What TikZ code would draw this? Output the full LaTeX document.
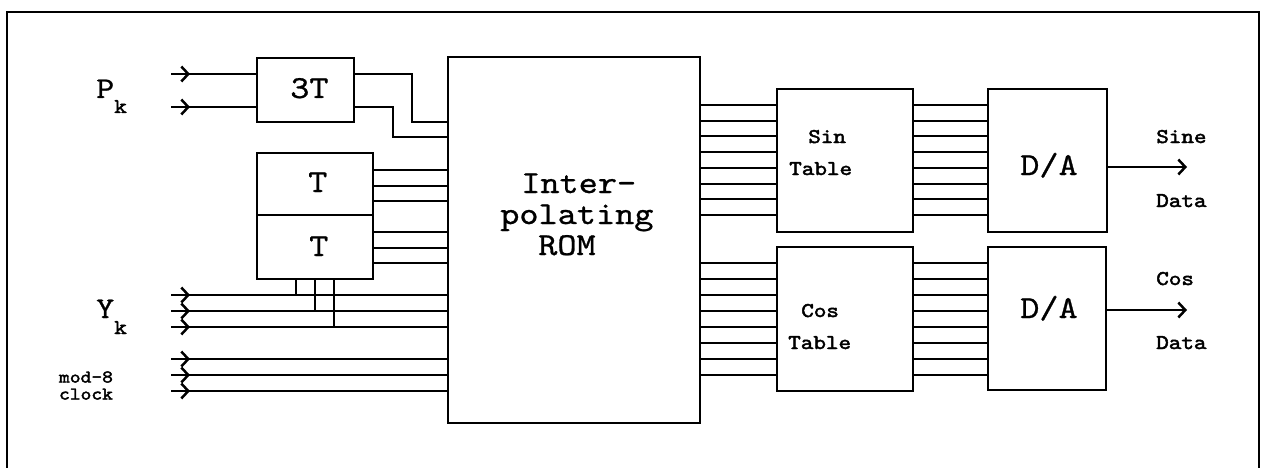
\documentclass[tikz,border=0pt]{standalone}
\usepackage{fontspec}
\newfontfamily\cour{lmmono10-regular.otf}[FakeStretch=1.14,FakeBold=0.8]
\newfontfamily\courb{lmmono10-regular.otf}[FakeStretch=1.14,FakeBold=2.2]
\usetikzlibrary{arrows.meta}
\begin{document}
\begin{tikzpicture}[x=1pt,y=-1pt,line width=2.5pt,
  box/.style={draw,rectangle,inner sep=0pt},
  lbl/.style={anchor=base west,inner sep=0pt},
  big/.style={font=\cour\fontsize{32}{32}\selectfont},
  mid/.style={font=\cour\fontsize{30}{30}\selectfont},
  sml/.style={font=\courb\fontsize{21}{21}\selectfont},
  tiny/.style={font=\courb\fontsize{18}{17}\selectfont},
  barb/.style={-{Straight Barb[length=7pt,width=15pt]}}]
\useasboundingbox (0,0) rectangle (1268,468);
\clip (0,0) rectangle (1268,468);
% frame
\draw (7,480) -- (7,12) -- (1259,12) -- (1259,480);
% boxes
\node[box,minimum width=97pt,minimum height=64pt] (d3) at (305.5,90) {};
\node[box,minimum width=116pt,minimum height=62pt] (tt) at (315,184) {};
\node[box,minimum width=116pt,minimum height=64pt] (tb) at (315,247) {};
\node[box,minimum width=252pt,minimum height=366pt] (rom) at (574,240) {};
\node[box,minimum width=136pt,minimum height=143pt] (sin) at (845,160.5) {};
\node[box,minimum width=136pt,minimum height=144pt] (cos) at (845,319) {};
\node[box,minimum width=119pt,minimum height=143pt] (da1) at (1047.5,160.5) {};
\node[box,minimum width=118pt,minimum height=143pt] (da2) at (1047,318.5) {};
% box texts
\node[lbl,big] (t3T) at (289,98) {3T};
\node[lbl,big] (tT1) at (307,192) {T};
\node[lbl,big] (tT2) at (308,256) {T};
\node[lbl,big] (tI) at (520,193) {Inter-};
\node[lbl,big] (tP) at (499,224) {polating};
\node[lbl,big] (tR) at (537,255) {ROM};
\node[lbl,sml] (tsin) at (807,143) {Sin};
\node[lbl,sml] (tst) at (788,175) {Table};
\node[lbl,sml] (tcos) at (800,317) {Cos};
\node[lbl,sml] (tct) at (787,349) {Table};
\node[lbl,big] (tda1) at (1019,175) {D/A};
\node[lbl,big] (tda2) at (1019,318) {D/A};
% left labels
\node[lbl,mid] (lP) at (95,98) {P};
\node[lbl,sml] (lPk) at (113,113) {k};
\node[lbl,mid] (lY) at (95,318) {Y};
\node[lbl,sml] (lYk) at (113,334) {k};
\node[tiny,inner sep=0pt,align=center] (lmod) at (86,385.5) {mod-8\\clock};
% right labels
\node[lbl,sml] (lsine) at (1155,143) {Sine};
\node[lbl,sml] (ld1) at (1155,207) {Data};
\node[lbl,sml] (lcos) at (1155,285) {Cos};
\node[lbl,sml] (ld2) at (1155,349) {Data};
% P_k inputs
\foreach \y/\n in {74/1,107/2} {
  \coordinate (ps\n) at (171,\y);
  \coordinate (pt\n) at (190,\y);
  \draw[barb] (ps\n) -- (pt\n);
  \draw (ps\n) -- (d3.west |- ps\n);
}
% 3T outputs
\draw (d3.east |- ps1) -- (412,74) -- (412,122) -- (rom.west |- 0,122);
\draw (d3.east |- ps2) -- (393,107) -- (393,137) -- (rom.west |- 0,137);
% T outputs
\foreach \y in {170,186,201} { \draw (tt.east |- 0,\y) -- (rom.west |- 0,\y); }
\foreach \y in {232,248,263} { \draw (tb.east |- 0,\y) -- (rom.west |- 0,\y); }
% Y_k and mod-8 inputs
\foreach \y/\n in {295/1,311/2,327/3,359/4,375/5,391/6} {
  \coordinate (ys\n) at (171,\y);
  \coordinate (yt\n) at (190,\y);
  \draw[barb] (ys\n) -- (yt\n);
  \draw (ys\n) -- (rom.west |- ys\n);
}
% taps into T boxes
\draw (tb.south -| 296,0) -- (ys1 -| 296,0);
\draw (tb.south -| 315,0) -- (ys2 -| 315,0);
\draw (tb.south -| 334,0) -- (ys3 -| 334,0);
% ROM -> tables -> D/A
\foreach \ya in {105,121,136,152,168,184,199,215} {
  \draw (rom.east |- 0,\ya) -- (sin.west |- 0,\ya);
  \draw (sin.east |- 0,\ya) -- (da1.west |- 0,\ya);
}
\foreach \yb in {263,279,295,311,327,343,359,375} {
  \draw (rom.east |- 0,\yb) -- (cos.west |- 0,\yb);
  \draw (cos.east |- 0,\yb) -- (da2.west |- 0,\yb);
}
% outputs
\coordinate (o1) at (1187,167);
\coordinate (o2) at (1187,310);
\draw[barb] (da1.east |- o1) -- (o1);
\draw[barb] (da2.east |- o2) -- (o2);
\end{tikzpicture}
\end{document}
